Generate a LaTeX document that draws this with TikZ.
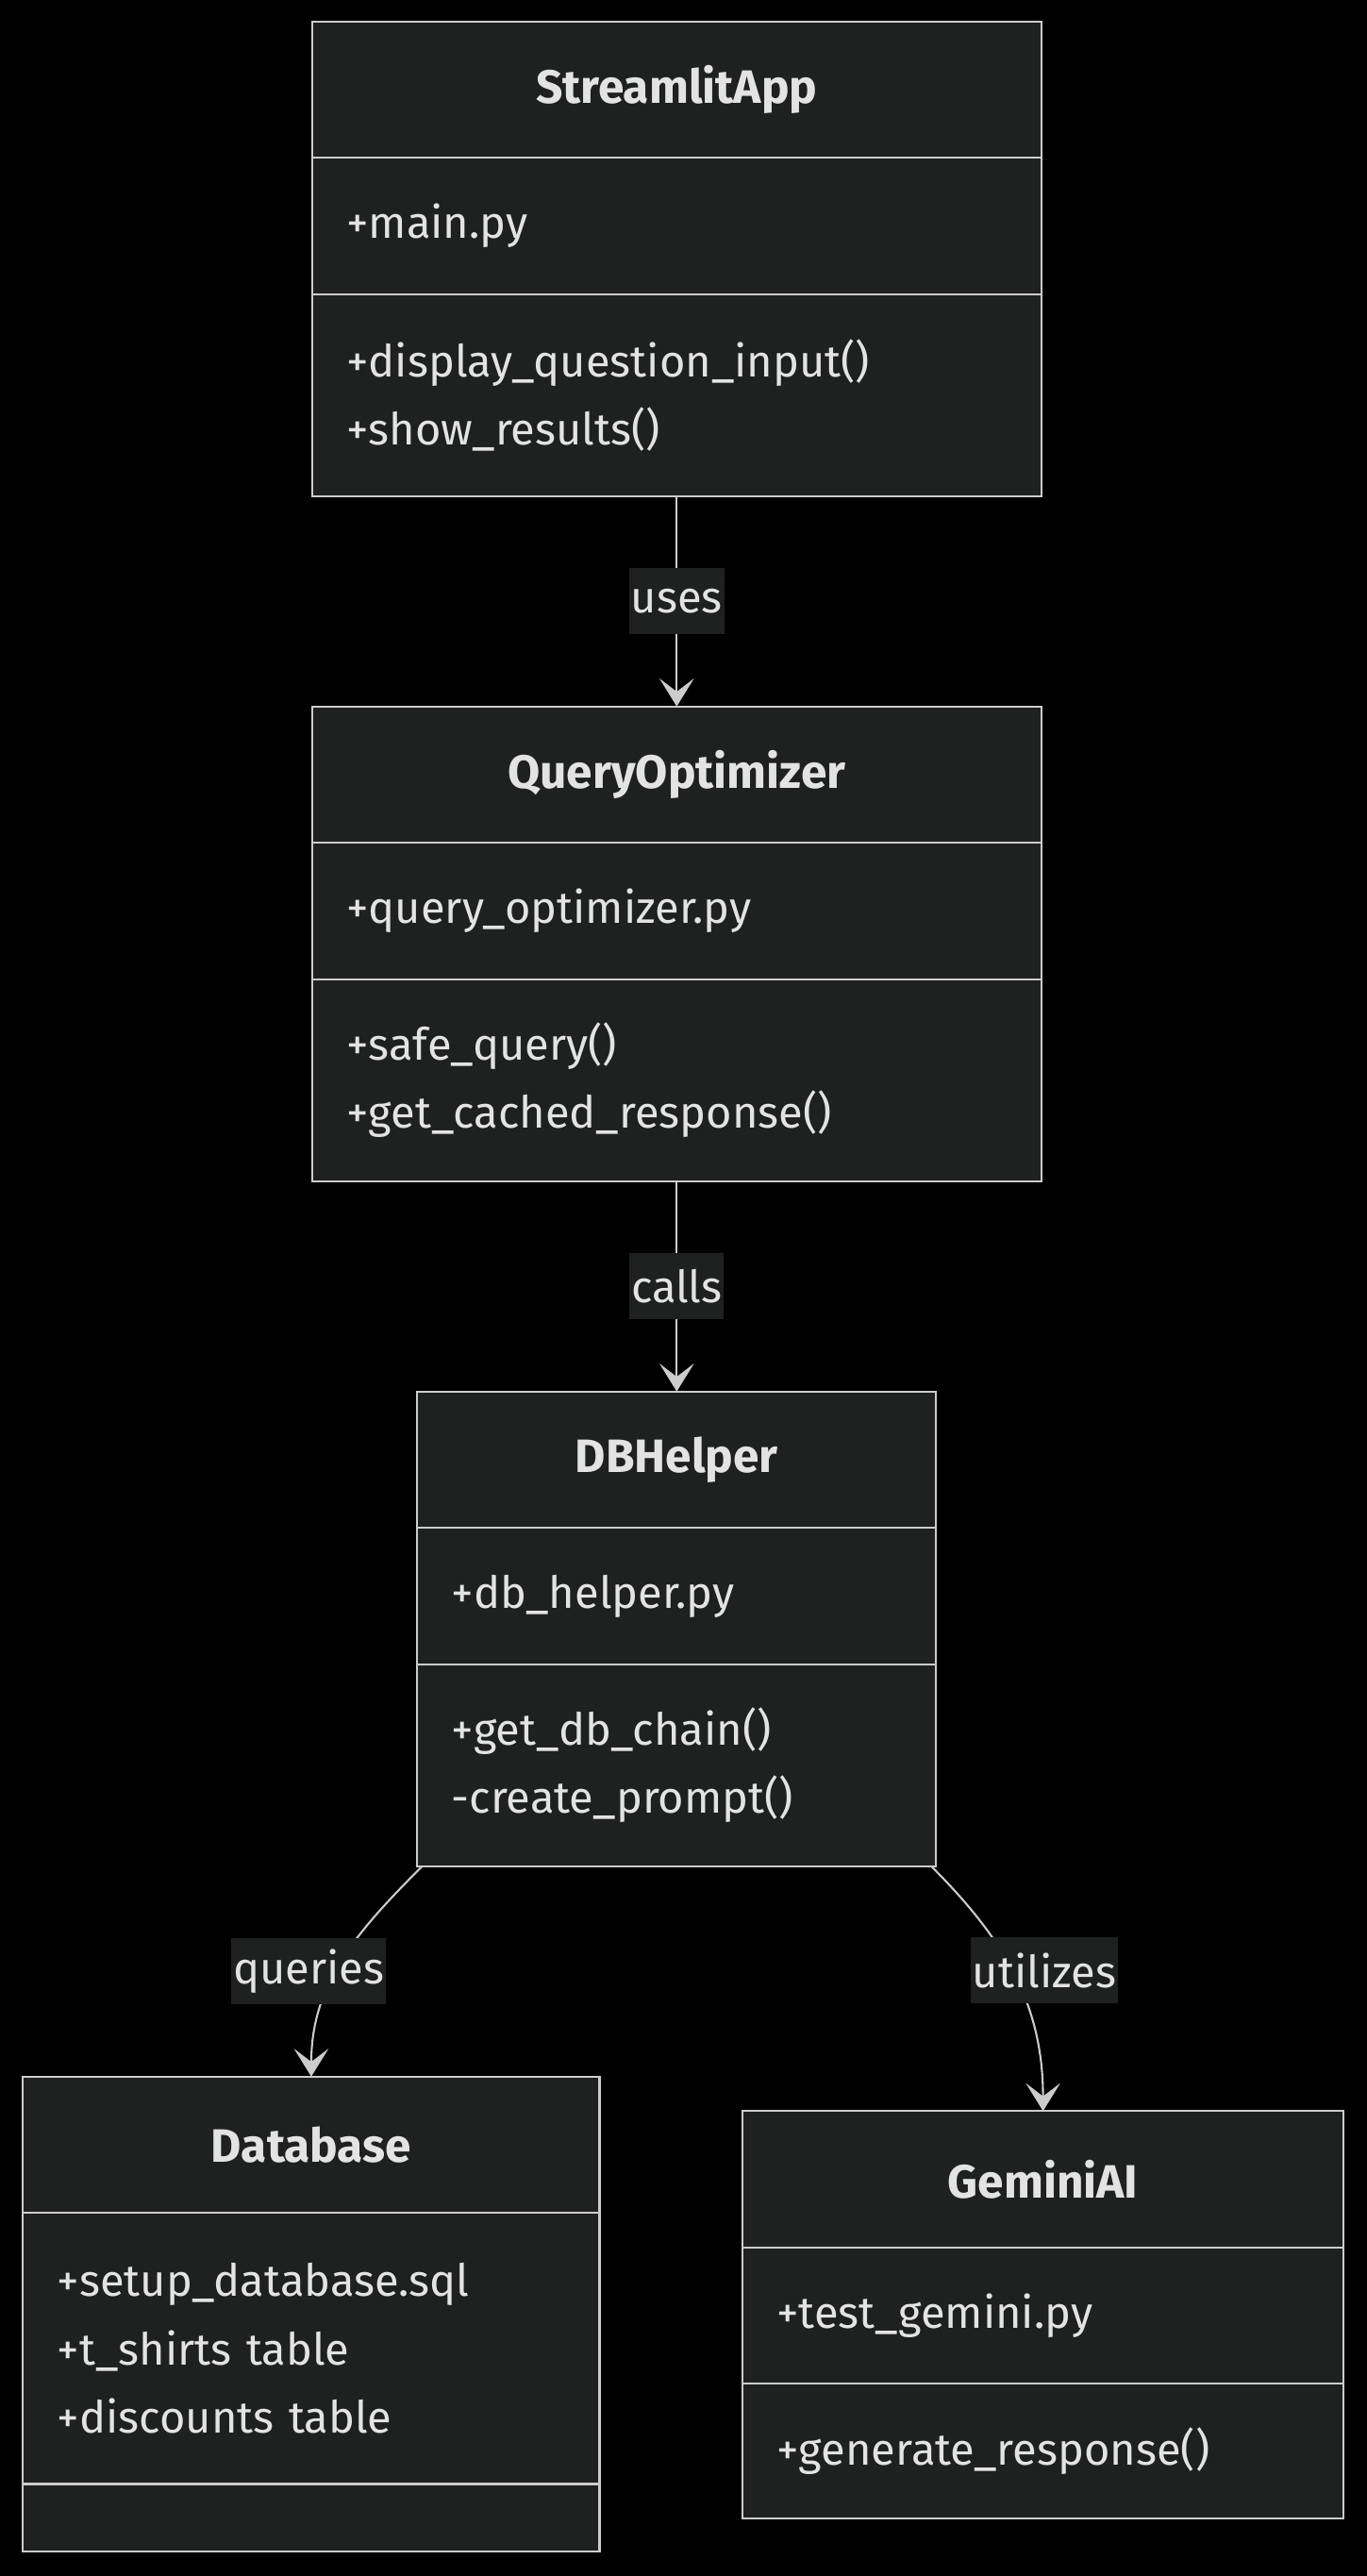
\documentclass[tikz,border=0pt]{standalone}
\usepackage{fontspec}
\setmainfont{Fira Sans}
\usepackage{xcolor}
\usetikzlibrary{positioning,arrows.meta}

\definecolor{umlfill}{HTML}{1F2020}
\definecolor{umlline}{HTML}{CCCCCC}
\definecolor{umltext}{HTML}{E3E3E3}
\newcommand{\umlsize}{\fontsize{27}{41.5}\selectfont}
\newcommand{\umlhead}{\fontsize{28.5}{41.5}\selectfont\bfseries}

\tikzset{
  cls/.style={draw=umlline,fill=umlfill,line width=1.2pt,text=umltext,
    inner xsep=21pt,inner ysep=0pt,outer sep=0pt,text width=#1},
  clshead/.style={cls=#1,minimum height=83pt,font=\umlhead,align=center},
  clsbody/.style={cls=#1,font=\umlsize,align=left},
  lbl/.style={fill=umlfill,text=umltext,font=\umlsize,inner xsep=1pt,inner ysep=0pt,minimum height=40pt},
  rel/.style={draw=umlline,line width=1.2pt,-{Stealth[length=17pt,width=21pt,inset=8pt]}}
}

\begin{document}
\begin{tikzpicture}[x=1pt,y=1pt]
            \path[use as bounding box,fill=black] (0,0) rectangle (832,-1568);
            % StreamlitApp
            \node[clshead=402pt,anchor=north] (sat) at (412,-13) {StreamlitApp};
            \node[clsbody=402pt,minimum height=83pt,below=0pt of sat] (saa) {+main.py};
            \node[clsbody=402pt,minimum height=123pt,below=0pt of saa] (sam) {+display\_question\_input()\\+show\_results()};
            % QueryOptimizer
            \node[clshead=402pt,anchor=north] (qot) at (412,-430) {QueryOptimizer};
            \node[clsbody=402pt,minimum height=83pt,below=0pt of qot] (qoa) {+query\_optimizer.py};
            \node[clsbody=402pt,minimum height=123pt,below=0pt of qoa] (qom) {+safe\_query()\\+get\_cached\_response()};
            % DBHelper
            \node[clshead=274pt,anchor=north] (dbt) at (412,-847) {DBHelper};
            \node[clsbody=274pt,minimum height=83pt,below=0pt of dbt] (dba) {+db\_helper.py};
            \node[clsbody=274pt,minimum height=123pt,below=0pt of dba] (dbm) {+get\_db\_chain()\\-create\_prompt()};
            % Database
            \node[clshead=309pt,anchor=north] (dat) at (189.5,-1264) {Database};
            \node[clsbody=309pt,minimum height=165pt,below=0pt of dat] (daa) {+setup\_database.sql\\+t\_shirts table\\+discounts table};
            \node[clsbody=309pt,minimum height=41pt,below=0pt of daa] (dam) {};
            % GeminiAI
            \node[clshead=324pt,anchor=north] (gat) at (635,-1285) {GeminiAI};
            \node[clsbody=324pt,minimum height=83pt,below=0pt of gat] (gaa) {+test\_gemini.py};
            \node[clsbody=324pt,minimum height=82pt,below=0pt of gaa] (gam) {+generate\_response()};
            % relations
            \draw[rel] (sam) -- node[lbl]{uses} (qot);
            \draw[rel] (qom) -- node[lbl]{calls} (dbt);
            \draw[rel] ([xshift=3pt]dbm.south west) to[out=-135,in=90] node[lbl,pos=0.55,xshift=-17pt]{queries} (dat.north);
            \draw[rel] ([xshift=-3pt]dbm.south east) to[out=-45,in=90] node[lbl,pos=0.47,xshift=20pt]{utilizes} (gat.north);
\end{tikzpicture}
\end{document}
